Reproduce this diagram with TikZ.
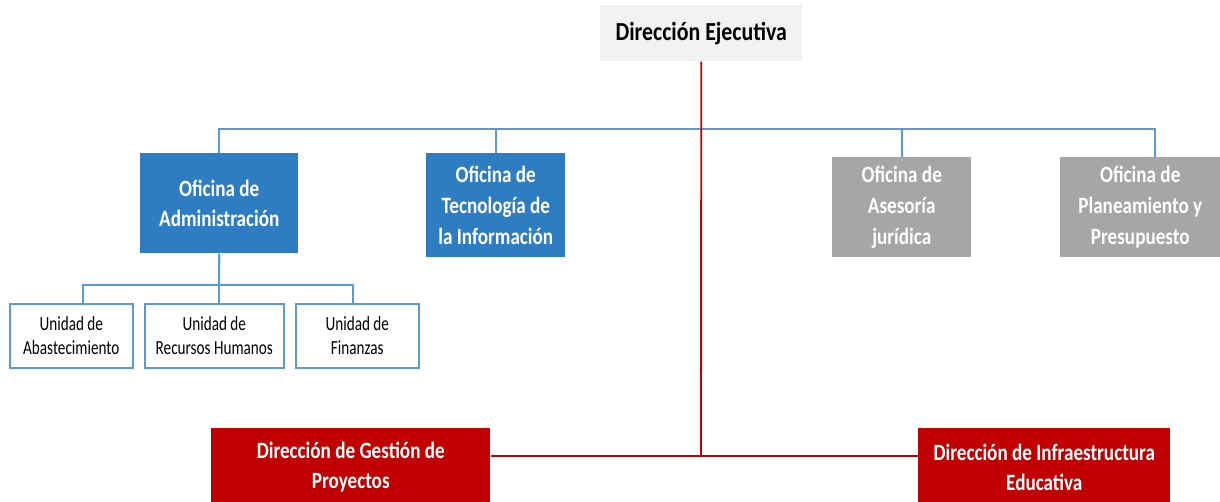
\documentclass[tikz,border=0pt]{standalone}
\usepackage{fontspec}
\setmainfont{Carlito}
\newfontfamily\fontbox{Carlito}[FakeStretch=0.82]
\newfontfamily\fonttop{Carlito}[FakeStretch=0.84]
\newfontfamily\fontunit{Carlito}[FakeStretch=0.76]
\definecolor{bluebox}{RGB}{46,125,195}
\definecolor{blueline}{RGB}{91,155,213}
\definecolor{graybox}{RGB}{166,166,166}
\definecolor{redbox}{RGB}{192,0,0}
\definecolor{redline}{RGB}{192,0,0}
\definecolor{topfill}{RGB}{242,242,242}
\begin{document}
\begin{tikzpicture}[x=0.75pt,y=-0.75pt,
  box/.style={anchor=north west,inner sep=0pt,align=center,font=\fontbox\bfseries\fontsize{17.5}{23}\selectfont},
  bluebx/.style={box,fill=bluebox,text=white},
  graybx/.style={box,fill=graybox,text=white},
  redbx/.style={box,fill=redbox,text=white},
  topbx/.style={box,fill=topfill,text=black,font=\fonttop\bfseries\fontsize{19.5}{24}\selectfont},
  unitbx/.style={anchor=north west,inner sep=0pt,align=center,draw=blueline,line width=1.2pt,fill=white,font=\fontunit\fontsize{15}{18}\selectfont},
  bl/.style={draw=blueline,line width=1.6pt},
  rl/.style={draw=redline,line width=1.4pt}]
\useasboundingbox (0,0) rectangle (1220,501);
% top
\node[topbx,minimum width=202*0.75pt,minimum height=56*0.75pt] (ej) at (600,5) {Dirección Ejecutiva};
% offices
\node[bluebx,minimum width=158*0.75pt,minimum height=100*0.75pt] (adm) at (140,153) {Oficina de\\Administración};
\node[bluebx,minimum width=139*0.75pt,minimum height=104*0.75pt] (ti) at (426,153) {Oficina de\\Tecnología de\\la Información};
\node[graybx,minimum width=139*0.75pt,minimum height=100*0.75pt] (as) at (832,157) {Oficina de\\Asesoría\\jurídica};
\node[graybx,minimum width=160*0.75pt,minimum height=100*0.75pt] (pl) at (1060,157) {Oficina de\\Planeamiento y\\Presupuesto};
% units
\node[unitbx,minimum width=123*0.75pt,minimum height=64*0.75pt] (u1) at (9,303) {Unidad de\\Abastecimiento};
\node[unitbx,minimum width=139*0.75pt,minimum height=64*0.75pt] (u2) at (144,303) {Unidad de\\Recursos Humanos};
\node[unitbx,minimum width=123*0.75pt,minimum height=64*0.75pt] (u3) at (295,303) {Unidad de\\Finanzas};
% directions (cut by the lower edge of the page)
\node[redbx,minimum width=279*0.75pt,minimum height=78*0.75pt] (gp) at (211,428) {Dirección de Gestión de\\Proyectos};
\node[redbx,minimum width=252*0.75pt,minimum height=78*0.75pt] (ie) at (918,428) {Dirección de Infraestructura\\Educativa};
% coordinates
\coordinate (bus) at (701,129);
\coordinate (rj) at (701,456);
\coordinate (ubus) at (219,285);
\coordinate (pltop) at (1155,157);
\coordinate (u1top) at (83,303);
\coordinate (u3top) at (353,303);
% lines
\draw[bl] (adm.north) |- (bus) -| (pltop);
\draw[bl] (ti.north) -- (ti.north |- bus);
\draw[bl] (as.north) -- (as.north |- bus);
\draw[bl] (adm.south) -- (ubus);
\draw[bl] (u1top) |- (ubus) -| (u3top);
\draw[bl] (u2.north -| ubus) -- (ubus);
\draw[rl] (ej.south) -- (rj);
\draw[rl] (gp.east |- rj) -- (ie.west |- rj);
\end{tikzpicture}
\end{document}
